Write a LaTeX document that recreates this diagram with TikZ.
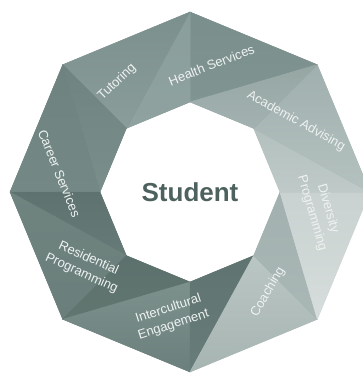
\documentclass[tikz,border=0pt]{standalone}
\usepackage{fontspec}
\setmainfont{Liberation Sans}
\definecolor{hA1}{HTML}{7A8F8B}\definecolor{hA2}{HTML}{809491}
\definecolor{hB1}{HTML}{8A9E9B}\definecolor{hB2}{HTML}{8FA29F}
\definecolor{tA1}{HTML}{7B8F8C}\definecolor{tA2}{HTML}{8A9D9A}
\definecolor{tB1}{HTML}{6F8480}\definecolor{tB2}{HTML}{7A8E8B}
\definecolor{cA1}{HTML}{6E837F}\definecolor{cA2}{HTML}{748985}
\definecolor{cB1}{HTML}{5E736F}\definecolor{cB2}{HTML}{667B77}
\definecolor{rA1}{HTML}{6F847F}\definecolor{rA2}{HTML}{6A7F7B}
\definecolor{rB1}{HTML}{5C716D}\definecolor{rB2}{HTML}{61766F}
\definecolor{iA1}{HTML}{7C908C}\definecolor{iA2}{HTML}{6B807C}
\definecolor{iB1}{HTML}{5F7470}\definecolor{iB2}{HTML}{687D79}
\definecolor{oA1}{HTML}{BAC6C4}\definecolor{oA2}{HTML}{A6B4B2}
\definecolor{oB1}{HTML}{A2B1AF}\definecolor{oB2}{HTML}{A9B7B5}
\definecolor{dA1}{HTML}{C9D2D0}\definecolor{dA2}{HTML}{D6DDDC}
\definecolor{dB1}{HTML}{B3C0BE}\definecolor{dB2}{HTML}{BFCAC8}
\definecolor{aA1}{HTML}{A0B0AE}\definecolor{aA2}{HTML}{B4C1BF}
\definecolor{aB1}{HTML}{95A6A3}\definecolor{aB2}{HTML}{A3B2B0}
\definecolor{lbltext}{HTML}{EEF2F1}
\definecolor{stud}{HTML}{4D625E}
\newcommand\segtri[6]{%
  \fill[#4!50!#5, draw=#4!50!#5, line width=0.5pt, line join=round] (#1)--(#2)--(#3)--cycle;
  \shade[left color=#4, right color=#5, shading angle=#6] (#1)--(#2)--(#3)--cycle;
}
\begin{document}
\begin{tikzpicture}[x=1pt,y=1pt,
  lbl/.style={text=lbltext, font=\fontsize{13}{16.5}\selectfont, align=center, inner sep=0pt}]
\useasboundingbox (0,-374) rectangle (363,0);
\clip (0,-374) rectangle (363,0);
\foreach \k in {0,45,...,315}{
  \coordinate (V\k) at ({190+180*cos(\k)},{-192+180*sin(\k)});
  \coordinate (I\k) at ({190+90*cos(\k)},{-192+90*sin(\k)});
}
% Health Services
\segtri{V45}{V90}{I90}{hA1}{hA2}{0}
\segtri{V90}{I135}{I90}{hB1}{hB2}{0}
% Tutoring
\segtri{V90}{V135}{I135}{tA1}{tA2}{0}
\segtri{V135}{I180}{I135}{tB1}{tB2}{0}
% Career Services
\segtri{V135}{V180}{I180}{cA1}{cA2}{0}
\segtri{V180}{I225}{I180}{cB1}{cB2}{0}
% Residential Programming
\segtri{V180}{V225}{I225}{rA1}{rA2}{0}
\segtri{V225}{I270}{I225}{rB1}{rB2}{0}
% Intercultural Engagement
\segtri{V225}{V270}{I270}{iA1}{iA2}{0}
\segtri{V270}{I315}{I270}{iB1}{iB2}{0}
% Coaching
\segtri{V270}{V315}{I315}{oA1}{oA2}{0}
\segtri{V315}{I0}{I315}{oB1}{oB2}{0}
% Diversity Programming
\segtri{V315}{V0}{I0}{dA1}{dA2}{0}
\segtri{V0}{I45}{I0}{dB1}{dB2}{0}
% Academic Advising
\segtri{V0}{V45}{I45}{aA1}{aA2}{0}
\segtri{V45}{I90}{I45}{aB1}{aB2}{0}

\node[lbl, rotate=44] (tut) at (117,-82) {Tutoring};
\node[lbl, rotate=21.5] (hea) at (211.5,-65) {Health Services};
\node[lbl, rotate=-29] (aca) at (296,-121) {Academic Advising};
\node[lbl, rotate=-74] (div) at (320,-211) {Diversity\\Programming};
\node[lbl, rotate=60] (coa) at (268,-292) {Coaching};
\node[lbl, rotate=18] (int) at (171,-317) {Intercultural\\Engagement};
\node[lbl, rotate=-24.5] (res) at (85,-266) {Residential\\Programming};
\node[lbl, rotate=-68] (car) at (59.5,-173.5) {Career Services};
\node[text=stud, font=\fontsize{26}{30}\selectfont\bfseries, inner sep=0pt] (stu) at (190,-192) {Student};
\end{tikzpicture}
\end{document}
